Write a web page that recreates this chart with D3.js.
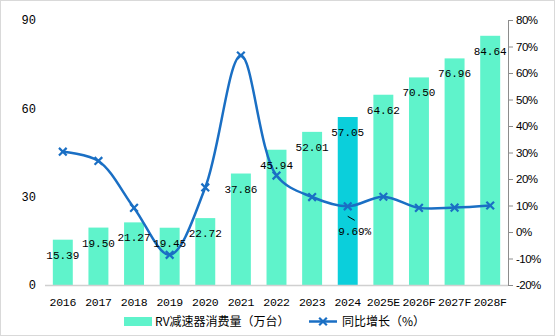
<!DOCTYPE html>
<html><head><meta charset="utf-8">
<script src="https://cdn.jsdelivr.net/npm/d3@7"></script>
<style>
html,body{margin:0;padding:0;background:#fff;}
svg{display:block;font-family:"Liberation Mono","Noto Sans CJK SC",monospace;}
</style></head>
<body>
<svg id="c" width="555" height="336"></svg>
<script>
const categories = ["2016","2017","2018","2019","2020","2021","2022","2023","2024","2025E","2026F","2027F","2028F"];
const consumption = [15.39,19.50,21.27,19.45,22.72,37.86,45.94,52.01,57.05,64.62,70.50,76.96,84.64];
const growth = [30.3,26.8,9.1,-8.6,16.8,66.6,21.3,13.2,9.69,13.3,9.1,9.2,10.0];
const leftTicks = [0,30,60,90];
const rightTicks = [-20,-10,0,10,20,30,40,50,60,70,80];
const highlight = "2024";
const seriesNames = ["RV减速器消费量（万台）","同比增长（%）"];

const svg = d3.select("#c");
const W=555,H=336;
svg.append("rect").attr("x",0.5).attr("y",0.5).attr("width",W-1).attr("height",H-1)
  .attr("fill","#fff").attr("stroke","#d9d9d9");

const L=45,R=508,T=20,B=285;
const x = d3.scaleBand().domain(categories).range([L,R]).paddingInner(0.44).paddingOuter(0.22);
const yL = d3.scaleLinear().domain([0,90]).range([B,T]);
const yR = d3.scaleLinear().domain([-20,80]).range([B,T]);

// left axis labels
const gl = svg.append("g").attr("transform",`translate(${L-9},0)`)
  .call(d3.axisLeft(yL).tickValues(leftTicks).tickSize(0).tickPadding(0));
gl.select(".domain").remove();
gl.selectAll("text").attr("font-size",12).attr("fill","#000").attr("font-family","Liberation Mono");

// bars
svg.append("g").selectAll("rect").data(categories).join("rect")
  .attr("x",d=>x(d)).attr("width",x.bandwidth())
  .attr("y",(d,i)=>yL(consumption[i])).attr("height",(d,i)=>B-yL(consumption[i]))
  .attr("fill",d=>d===highlight?"#0bcfdb":"#5ff3cb");

// baseline
svg.append("line").attr("x1",L).attr("x2",R).attr("y1",B+0.5).attr("y2",B+0.5).attr("stroke","#d0d0d0").attr("stroke-width",1.5);

// right axis
const gr = svg.append("g").attr("transform",`translate(${R},0)`)
  .call(d3.axisRight(yR).tickValues(rightTicks).tickSize(5).tickPadding(3).tickFormat(d=>d+"%"));
gr.select(".domain").attr("stroke","#8c8c8c");
gr.selectAll(".tick line").attr("stroke","#8c8c8c");
gr.selectAll("text").attr("font-size",11.5).attr("fill","#000").attr("letter-spacing","-0.5");

// x labels
svg.append("g").selectAll("text").data(categories).join("text")
  .attr("x",d=>x(d)+x.bandwidth()/2).attr("y",306).attr("text-anchor","middle")
  .attr("font-size",11.5).attr("letter-spacing","-0.3").text(d=>d);

// line
const lineGen = d3.line().x((d,i)=>x(categories[i])+x.bandwidth()/2).y(d=>yR(d)).curve(d3.curveCatmullRom.alpha(0.5));
svg.append("path").datum(growth).attr("d",lineGen).attr("fill","none").attr("stroke","#1a6fc4").attr("stroke-width",2.5);
const sym = d3.symbol().type(d3.symbolX).size(40);
svg.append("g").selectAll("path").data(growth).join("path")
  .attr("transform",(d,i)=>`translate(${x(categories[i])+x.bandwidth()/2},${yR(d)})`)
  .attr("d",sym).attr("fill","none").attr("stroke","#1a6fc4").attr("stroke-width",2.2);

// bar labels
svg.append("g").selectAll("text").data(categories).join("text")
  .attr("x",d=>x(d)+x.bandwidth()/2).attr("y",(d,i)=>yL(consumption[i])+19)
  .attr("text-anchor","middle").attr("font-size",11).attr("fill","#000")
  .text((d,i)=>consumption[i].toFixed(2));

// 2024 growth annotation
const hi = categories.indexOf(highlight);
const hx = x(highlight)+x.bandwidth()/2, hy = yR(growth[hi]);
svg.append("line").attr("x1",hx).attr("y1",hy+10).attr("x2",hx+7).attr("y2",hy+14).attr("stroke","#000").attr("stroke-width",1);
svg.append("text").attr("x",hx+7).attr("y",hy+29).attr("text-anchor","middle").attr("font-size",11).text(growth[hi].toFixed(2)+"%");

// legend
const lg = svg.append("g").attr("font-family","Noto Sans CJK SC").attr("font-size",12);
lg.append("rect").attr("x",124).attr("y",317).attr("width",28).attr("height",9).attr("fill","#5ff3cb");
lg.append("text").attr("x",155).attr("y",326).text(seriesNames[0]);
lg.append("line").attr("x1",309).attr("x2",337).attr("y1",321.5).attr("y2",321.5).attr("stroke","#1a6fc4").attr("stroke-width",2.5);
lg.append("path").attr("transform","translate(323,321.5)").attr("d",sym).attr("fill","none").attr("stroke","#1a6fc4").attr("stroke-width",2.2);
lg.append("text").attr("x",342).attr("y",326).text(seriesNames[1]);
</script>
</body></html>
